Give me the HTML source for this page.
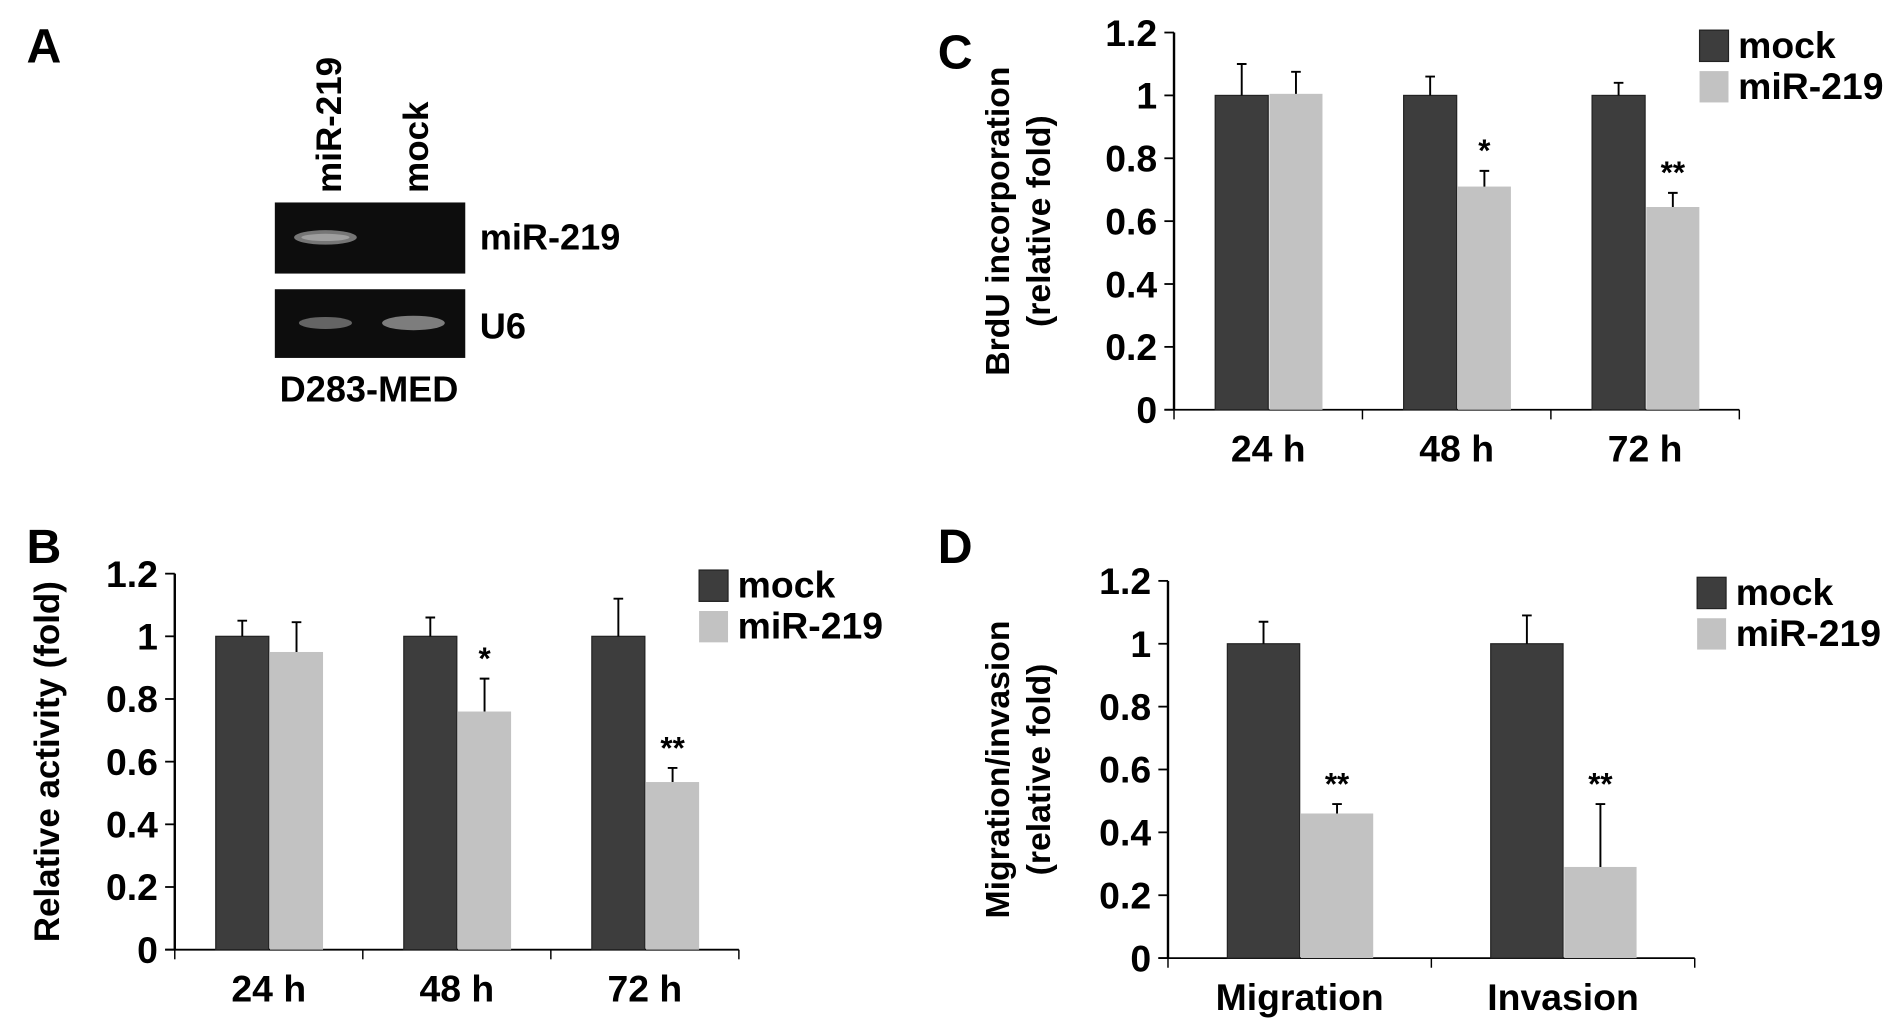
<!DOCTYPE html>
<html><head><meta charset="utf-8">
<style>
html,body{margin:0;padding:0;background:#fff;}
svg{display:block;}
text{font-family:"Liberation Sans Narrow","Liberation Sans",sans-serif;font-weight:bold;fill:#000;}
.wide{font-family:"Liberation Sans",sans-serif;}
</style></head>
<body>
<svg id="fig" width="1890" height="1028" viewBox="0 0 1568 853" preserveAspectRatio="none" xmlns="http://www.w3.org/2000/svg">
  <text x="22" y="52" font-size="40">A</text>
  <text class="wide" transform="translate(283,160) rotate(-90)" font-size="29">miR-219</text>
  <text class="wide" transform="translate(355,160) rotate(-90)" font-size="29">mock</text>
  <g>
    <rect x="228" y="168" width="158" height="59" fill="#0d0d0d"/>
    <ellipse cx="270" cy="197" rx="26" ry="6" fill="#8a8a8a" opacity="0.85"/>
    <ellipse cx="270" cy="197" rx="20" ry="3" fill="#bbb" opacity="0.6"/>
  </g>
  <g>
    <rect x="228" y="240" width="158" height="57" fill="#0d0d0d"/>
    <ellipse cx="270" cy="268" rx="22" ry="5" fill="#6e6e6e" opacity="0.9"/>
    <ellipse cx="343" cy="268" rx="26" ry="6" fill="#8a8a8a" opacity="0.9"/>
  </g>
  <text x="398" y="207" font-size="30">miR-219</text>
  <text x="398" y="281" font-size="30">U6</text>
  <text x="232" y="333" font-size="30">D283-MED</text>

  <text x="22" y="467" font-size="40">B</text>
  <text x="778" y="57" font-size="40">C</text>
  <text x="778" y="467" font-size="40">D</text>
</svg>
<script>
// Panel B data
const bCategories = ["24 h", "48 h", "72 h"];
const bMock = [1, 1, 1];
const bMockErr = [0.05, 0.06, 0.12];
const bMir = [0.95, 0.76, 0.535];
const bMirErr = [0.095, 0.105, 0.045];
const bStars = ["", "*", "**"];
// Panel C data
const cCategories = ["24 h", "48 h", "72 h"];
const cMock = [1, 1, 1];
const cMockErr = [0.10, 0.06, 0.04];
const cMir = [1.005, 0.71, 0.645];
const cMirErr = [0.07, 0.05, 0.045];
const cStars = ["", "*", "**"];
// Panel D data
const dCategories = ["Migration", "Invasion"];
const dMock = [1, 1];
const dMockErr = [0.07, 0.09];
const dMir = [0.46, 0.29];
const dMirErr = [0.03, 0.2];
const dStars = ["**", "**"];
const yTicks = ["0", "0.2", "0.4", "0.6", "0.8", "1", "1.2"];
const seriesNames = ["mock", "miR-219"];

const NS = "http://www.w3.org/2000/svg";
const svg = document.getElementById("fig");
function mk(tag, attrs, parent) {
  const e = document.createElementNS(NS, tag);
  for (const k in attrs) e.setAttribute(k, attrs[k]);
  (parent || svg).appendChild(e);
  return e;
}
function chart(p, cats, mock, mockErr, mir, mirErr, stars) {
  const g = mk("g", {});
  
  
  const y = v => p.y0 - (v / 1.2) * (p.y0 - p.y1);
  const n = cats.length, step = (p.x1 - p.x0) / n;
  const xc = i => p.x0 + step * (i + 0.5);
  const ax = mk("line", {x1: p.x0, y1: p.y1, x2: p.x0, y2: p.y0, stroke: "#000", "stroke-width": 2}, g);
  
  
  const bx = mk("line", {x1: p.x0 - 8, y1: p.y0, x2: p.x1, y2: p.y0, stroke: "#000", "stroke-width": 1.5}, g);
  
  
  for (let i = 0; i <= n; i++) {
    const tx = p.x0 + step * i;
    mk("line", {x1: tx, y1: p.y0, x2: tx, y2: p.y0 + 8, stroke: "#000", "stroke-width": 1.2}, g);
  }
  yTicks.forEach((t, i) => {
    const v = parseFloat(t), yy = y(v);
    mk("line", {x1: p.x0 - 8, y1: yy, x2: p.x0, y2: yy, stroke: "#000", "stroke-width": 1.5}, g);
    const tl = mk("text", {x: p.x0 - 14, y: yy + 11, "font-size": 31, "text-anchor": "end"}, g);
    tl.textContent = t;
    
    
  });
  cats.forEach((c, i) => {
    const cx = xc(i);
    [[mock[i], mockErr[i], "#3d3d3d", -1], [mir[i], mirErr[i], "#c2c2c2", 0]].forEach(([v, e, col, side], k) => {
      const bx0 = cx + side * p.bw + (k ? 1 : 0);
      const r = mk("rect", {x: bx0, y: y(v), width: p.bw, height: p.y0 - y(v), fill: col, stroke: k ? "none" : "#222", "stroke-width": 1}, g);
      
      
      const mx = bx0 + p.bw / 2;
      const el = mk("path", {d: `M${mx},${y(v)}V${y(v + e)}M${mx - 4},${y(v + e)}H${mx + 4}`, stroke: "#000", "stroke-width": 1.6, fill: "none"}, g);
      
      
      if (k && stars[i]) {
        const s = mk("text", {x: mx, y: y(v + e) - 8, "font-size": 26, "text-anchor": "middle"}, g);
        s.textContent = stars[i];
        
        
      }
    });
    const cl = mk("text", {x: cx, y: p.y0 + 43, "font-size": 31, "text-anchor": "middle"}, g);
    cl.textContent = c;
    
    
  });
  const cy = (p.y0 + p.y1) / 2;
  p.titles.forEach((t, i) => {
    const tt = mk("text", {transform: `translate(${p.tx + i * 34},${cy}) rotate(-90)`, "font-size": p.tfs, "text-anchor": "middle", class: "wide"}, g);
    tt.textContent = t;
    
    
  });
  seriesNames.forEach((s, i) => {
    const ly = p.ly + i * 34;
    const lb = mk("rect", {x: p.lx, y: ly - 12, width: 24, height: 26, fill: i ? "#c2c2c2" : "#3d3d3d", stroke: i ? "none" : "#222"}, g);
    
    
    const lt = mk("text", {x: p.lx + 32, y: ly + 11, "font-size": 31}, g);
    lt.textContent = s;
    
    
  });
}
chart({name: "chart-b", x0: 145, x1: 613, y0: 788, y1: 476, bw: 44, tx: 49, tfs: 29, titles: ["Relative activity  (fold)"], lx: 580, ly: 485},
  bCategories, bMock, bMockErr, bMir, bMirErr, bStars);
chart({name: "chart-c", x0: 974, x1: 1443, y0: 340, y1: 27, bw: 44, tx: 837, tfs: 28, titles: ["BrdU incorporation", "(relative fold)"], lx: 1410, ly: 37},
  cCategories, cMock, cMockErr, cMir, cMirErr, cStars);
chart({name: "chart-d", x0: 969, x1: 1406, y0: 795, y1: 482, bw: 60, tx: 837, tfs: 28, titles: ["Migration/invasion", "(relative fold)"], lx: 1408, ly: 491},
  dCategories, dMock, dMockErr, dMir, dMirErr, dStars);
</script>
</body></html>
